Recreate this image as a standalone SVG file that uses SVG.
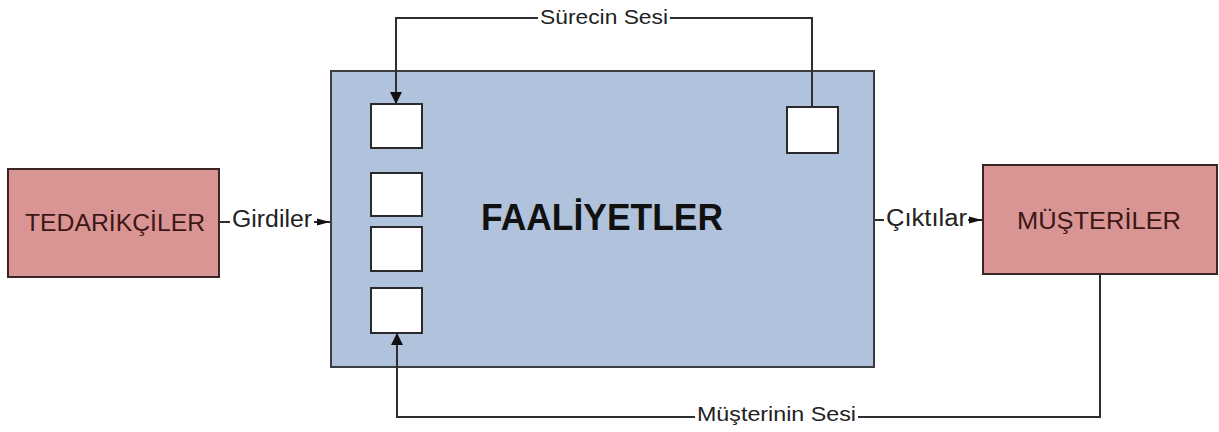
<svg xmlns="http://www.w3.org/2000/svg" width="1219" height="432" viewBox="0 0 1219 432">
<defs>
<style>
.ext{fill:#d99594;stroke:#3b2626;stroke-width:2}
.main{fill:#b1c3dc;stroke:#3a3d42;stroke-width:2}
.sub{fill:#ffffff;stroke:#2a2a2a;stroke-width:2}
.conn{fill:none;stroke:#2e2e2e;stroke-width:2}
.lbl{font-family:"Liberation Sans",Arial,sans-serif;fill:#222222}
.extt{font-family:"Liberation Sans",Arial,sans-serif;fill:#3d1616;font-size:24px}
.big{font-family:"Liberation Sans",Arial,sans-serif;font-weight:bold;fill:#111111;font-size:36px}
</style>
<marker id="ah" markerUnits="userSpaceOnUse" markerWidth="12" markerHeight="14" viewBox="0 0 12 14" refX="12" refY="7" orient="auto">
<path d="M0,1 L12,7 L0,13 Z" fill="#111111"/>
</marker>
<marker id="as" markerUnits="userSpaceOnUse" markerWidth="13" markerHeight="8" viewBox="0 0 13 8" refX="13" refY="4" orient="auto">
<path d="M0,0.5 L13,4 L0,7.5 Z" fill="#111111"/>
</marker>
</defs>
<rect width="1219" height="432" fill="#ffffff"/>
<g id="tedarikciler">
<rect class="ext" x="8" y="169" width="211" height="108"/>
<text class="extt" x="25" y="231" textLength="180" lengthAdjust="spacingAndGlyphs">TEDARİKÇİLER</text>
</g>
<g id="faaliyetler">
<rect class="main" x="331" y="71" width="543" height="296"/>
<text class="big" x="481" y="230" textLength="242" lengthAdjust="spacingAndGlyphs">FAALİYETLER</text>
</g>
<g id="sub1"><rect class="sub" x="371" y="104" width="51" height="44"/></g>
<g id="sub2"><rect class="sub" x="371" y="173" width="51" height="43"/></g>
<g id="sub3"><rect class="sub" x="371" y="227" width="51" height="44"/></g>
<g id="sub4"><rect class="sub" x="371" y="288" width="51" height="45"/></g>
<g id="sub5"><rect class="sub" x="787" y="107" width="51" height="46"/></g>
<g id="musteriler">
<rect class="ext" x="983" y="165" width="234" height="109"/>
<text class="extt" x="1017" y="229" textLength="164" lengthAdjust="spacingAndGlyphs">MÜŞTERİLER</text>
</g>
<g id="connectors">
<line class="conn" x1="220" y1="222" x2="230" y2="222"/>
<line class="conn" x1="314" y1="222" x2="330" y2="222" marker-end="url(#as)"/>
<text class="lbl" x="232" y="227" font-size="23" textLength="80" lengthAdjust="spacingAndGlyphs">Girdiler</text>
<line class="conn" x1="875" y1="220" x2="884" y2="220"/>
<line class="conn" x1="968" y1="220" x2="982" y2="220" marker-end="url(#as)"/>
<text class="lbl" x="886" y="226" font-size="23" textLength="81" lengthAdjust="spacingAndGlyphs">Çıktılar</text>
<path class="conn" d="M812,107 L812,18 L670,18"/>
<path class="conn" d="M538,18 L396,18 L396,104" marker-end="url(#ah)"/>
<text class="lbl" x="540" y="24" font-size="21" textLength="128" lengthAdjust="spacingAndGlyphs">Sürecin Sesi</text>
<path class="conn" d="M1100,274 L1100,417 L858,417"/>
<path class="conn" d="M695,417 L397,417 L397,333" marker-end="url(#ah)"/>
<text class="lbl" x="697" y="421" font-size="21" textLength="159" lengthAdjust="spacingAndGlyphs">Müşterinin Sesi</text>
</g>
</svg>
